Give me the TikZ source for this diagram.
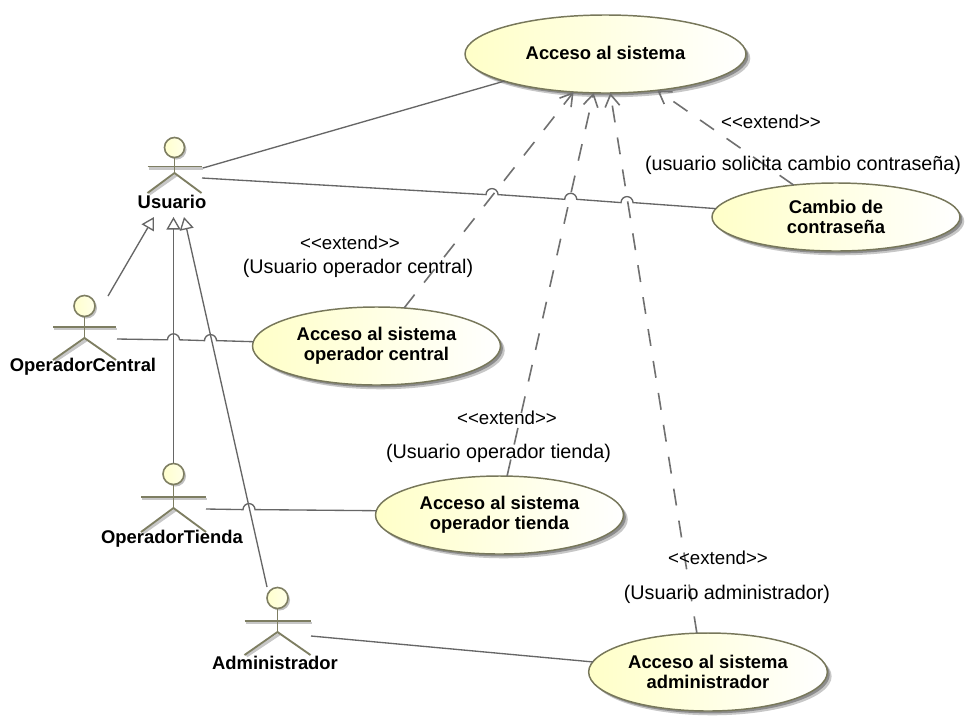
\documentclass[tikz,border=0pt]{standalone}
\usepackage{fontspec}
\setmainfont{Liberation Sans}
\usetikzlibrary{shapes.geometric,arrows.meta,shadows,calc}
\definecolor{ucyellow}{HTML}{FFFFC8}
\definecolor{ucstroke}{HTML}{77775A}
\definecolor{actstroke}{HTML}{7E7E62}
\definecolor{linkgray}{HTML}{666666}
\definecolor{dashgray}{HTML}{707070}
\tikzset{
  ucase/.style={ellipse,draw=ucstroke,line width=1.1pt,inner sep=-9pt,outer sep=0pt,
    left color=ucyellow,right color=white,
    general shadow={shadow xshift=3.2pt,shadow yshift=-3.2pt,fill=black!22},
    general shadow={shadow xshift=1.8pt,shadow yshift=-1.8pt,fill=black!45},
    align=center,font=\fontsize{13.8}{15}\selectfont\bfseries,
    minimum width=186pt,minimum height=58.5pt},
  actorhead/.style={circle,draw=actstroke,line width=1.2pt,inner sep=0pt,outer sep=0pt,
    left color=ucyellow!90!white,right color=ucyellow!40!white},
  actorline/.style={draw=actstroke,line width=1.4pt},
  actorshade/.style={draw=black!22,line width=2.2pt},
  actorname/.style={font=\fontsize{13.8}{15}\selectfont\bfseries,inner sep=0pt},
  note/.style={font=\fontsize{14.8}{16}\selectfont,inner sep=0pt},
  stereo/.style={font=\fontsize{14}{16}\selectfont,inner sep=0pt},
  assoc/.style={draw=linkgray,line width=1pt},
  general/.style={draw=linkgray,line width=1pt,-{Triangle[open,length=9.4pt,width=10.5pt]}},
  extendarrow/.style={draw=dashgray,line width=1.2pt,dash pattern=on 12.75pt off 11.5pt,
    -{Straight Barb[length=9pt,width=11pt]}}
}
% name, cx, head y, radius, arms y, hip y, feet y, half span
\newcommand{\umlactor}[8]{%
  \path[actorshade] (#2-#8+2,#7+1) -- (#2+2,#6+2);
  \path[actorshade] (#2-#8+1,#5+2) -- (#2+#8+1,#5+2);
  \path[fill=black!25] (#2+2,#3+2) circle[radius=#4];
  \path[actorline] (#2,#3+#4) -- (#2,#6);
  \path[actorline] (#2-#8,#5) -- (#2+#8,#5);
  \path[actorline] (#2-#8,#7) -- (#2,#6) -- (#2+#8,#7);
  \node[actorhead,minimum size=#4*1.5pt] (#1) at (#2,#3) {};
}
\newcommand{\jump}{arc[start angle=180,end angle=360,radius=6]}
\newcommand{\ext}{<{}<extend>{}>}
\begin{document}
\begin{tikzpicture}[x=.75pt,y=-.75pt]
\useasboundingbox[fill=white] (0,0) rectangle (966,715);

% use cases
\node[ucase,minimum width=210.75pt,minimum height=58.5pt] (acceso) at (605.5,54) {\raisebox{1.5pt}{Acceso al sistema}};
\node[ucase,minimum height=51pt] (cambio) at (836,217) {Cambio de\\contraseña};
\node[ucase] (central) at (376.5,346) {Acceso al sistema\\operador central};
\node[ucase] (tienda) at (499.5,515) {Acceso al sistema\\operador tienda};
\node[ucase,minimum width=179pt] (admin) at (708,672) {Acceso al sistema\\administrador};

% actors
\umlactor{usuario}{174.5}{147.5}{10}{166.5}{173}{193}{27}
\umlactor{opcentral}{84.5}{306}{10.5}{327}{338}{360}{31.5}
\umlactor{optienda}{173.5}{474}{10.5}{497}{508}{532}{32.5}
\umlactor{administrador}{277.5}{598}{10.5}{621}{632}{655}{33}

% free ends at the actors
\coordinate (uR1) at (203,168);
\coordinate (uR2) at (202,178);
\coordinate (gen1) at (154,217);
\coordinate (gen2) at (173.5,217);
\coordinate (gen3) at (184,217);
\coordinate (cTop) at (108,296);
\coordinate (cR) at (117,339);
\coordinate (tTop) at (173.5,463);
\coordinate (tR) at (206,509);
\coordinate (aTop) at (267,587);
\coordinate (aR) at (311,636);
% jump starts
\coordinate (j1) at (486,194.6);
\coordinate (j2) at (564.7,199.3);
\coordinate (j3) at (621,202.6);
\coordinate (j4) at (167.5,339.8);
\coordinate (j5) at (204.5,340.6);
\coordinate (j6) at (243,509.6);

% associations
\draw[assoc] (uR1) -- (acceso.195);
\draw[assoc] (uR2) -- (j1) \jump -- (j2) \jump -- (j3) \jump -- (cambio.176);
\draw[assoc] (cR) -- (j4) \jump -- (j5) \jump -- (central.178);
\draw[assoc] (tR) -- (j6) \jump -- (tienda.178);
\draw[assoc] (aR) -- (admin.175);

% generalizations
\draw[general] (cTop) -- (gen1);
\draw[general] (tTop) -- (gen2);
\draw[general] (aTop) -- (gen3);

% extends
\draw[extendarrow] (central.54) -- (acceso.230);
\draw[extendarrow] (tienda.79) -- (acceso.253);
\draw[extendarrow] (admin.106) -- (acceso.277);
\draw[extendarrow] (cambio.143) -- (acceso.325);

% texts
\node[actorname] (lu) at (172,202) {Usuario};
\node[actorname] (lc) at (83,367) {OperadorCentral};
\node[actorname] (lt) at (172,539) {OperadorTienda};
\node[actorname] (la) at (275,663) {Administrador};

\node[stereo] (n1) at (771,122) {\ext};
\node[note] (n2) at (803,165) {(usuario solicita cambio contraseña)};
\node[stereo] (n3) at (350,243) {\ext};
\node[note] (n4) at (358,268) {(Usuario operador central)};
\node[stereo] (n5) at (507,418) {\ext};
\node[note] (n6) at (498.5,453) {(Usuario operador tienda)};
\node[stereo] (n7) at (718,558) {\ext};
\node[note] (n8) at (727,594) {(Usuario administrador)};
\end{tikzpicture}
\end{document}
